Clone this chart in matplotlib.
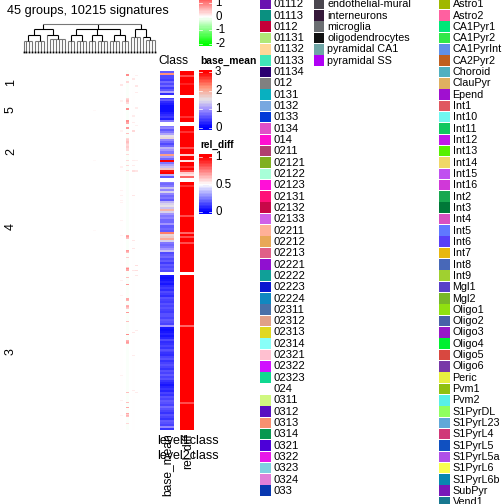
import matplotlib
matplotlib.use('Agg')
import matplotlib.pyplot as plt
import numpy as np
from matplotlib.colors import LinearSegmentedColormap, Normalize
from matplotlib.patches import Rectangle

plt.rcParams['font.family'] = ['Liberation Sans', 'DejaVu Sans']

# legend names and colours
class_names = ['01112', '01113', '0112', '01131', '01132', '01133', '01134', '012', '0131', '0132', '0133',
               '0134', '014', '0211', '02121', '02122', '02123', '02131', '02132', '02133', '02211', '02212',
               '02213', '02221', '02222', '02223', '02224', '02311', '02312', '02313', '02314', '02321', '02322',
               '02323', '024', '0311', '0312', '0313', '0314', '0321', '0322', '0323', '0324', '033']
class_colors = ['#6a12b0', '#0a9080', '#c40038', '#b0e878', '#ffd898', '#40e8b8', '#2a0070', '#808080', '#08b0c0',
                '#78a8e0', '#0038d8', '#e050c8', '#ff10d0', '#b04070', '#80b020', '#a8ffd8', '#ff10d8', '#ff1078',
                '#c80848', '#d060e8', '#ffb098', '#e8a858', '#e06088', '#9010d0', '#10a098', '#0818d0', '#1088c0',
                '#4870a8', '#e0a088', '#e0d820', '#88fff8', '#ffc0d0', '#d010ff', '#10d890', '#ffffff', '#d0f880',
                '#5810c0', '#f89070', '#089850', '#4c00d8', '#e818e8', '#80d0e0', '#e080d8', '#0838b0']
type_names = ['endothelial-mural', 'interneurons', 'microglia', 'oligodendrocytes', 'pyramidal CA1', 'pyramidal SS']
type_colors = ['#4a464e', '#35193a', '#6b6e72', '#111111', '#6fa6a6', '#b000f5']
cell_names = ['Astro1', 'Astro2', 'CA1Pyr1', 'CA1Pyr2', 'CA1PyrInt', 'CA2Pyr2', 'Choroid', 'ClauPyr', 'Epend', 'Int1',
              'Int10', 'Int11', 'Int12', 'Int13', 'Int14', 'Int15', 'Int16', 'Int2', 'Int3', 'Int4', 'Int5', 'Int6',
              'Int7', 'Int8', 'Int9', 'Mgl1', 'Mgl2', 'Oligo1', 'Oligo2', 'Oligo3', 'Oligo4', 'Oligo5', 'Oligo6',
              'Peric', 'Pvm1', 'Pvm2', 'S1PyrDL', 'S1PyrL23', 'S1PyrL4', 'S1PyrL5', 'S1PyrL5a', 'S1PyrL6', 'S1PyrL6b',
              'SubPyr', 'Vend1']
cell_colors = ['#a0b800', '#ff60a0', '#00e878', '#30e848', '#6090e8', '#c06020', '#50b0c0', '#e0b060', '#a010d0',
               '#e05860', '#70f8f0', '#10c860', '#c018e8', '#58f000', '#f0d868', '#c050f0', '#d038d8', '#18a850',
               '#007838', '#d850c0', '#6078ff', '#5840f8', '#e8b810', '#4868b8', '#a0d030', '#5840c8', '#78b828',
               '#90e010', '#4860a8', '#9818c8', '#00f030', '#d84840', '#7838a8', '#e8f040', '#90c010', '#58f0e8',
               '#90ff60', '#60a8d8', '#d03878', '#1050c0', '#b050e8', '#f8ff50', '#0888b0', '#7818b8', '#187890']

# row groups in display order, with their rows of the two side columns
group_names = ['1', '5', '2', '4', '3']
base_mean = [
    [.6, 2.2, .5, .5, .4, .7, .5, .7, .4, .6, 1.1, .3],
    [.4, .6, .3, .2, .1, .1, .1, .2, .3, .4, .2, .8],
    [.8, .9, .6, .8, 1.1, 1.5, 1.6, .9, .7, .5, .7, 1.2, 1.0, .8, 2.1, 1.0, .7, 3.0, .8, 1.1, 1.3, 1.7, 2.9, 3.0,
     1.2, .6],
    [.8, .7, .8, 1.3, .9, 1.4, .9, .7, .8, .6, 1.2, 1.4, 1.5, 1.3, 1.9, 1.4, 1.0, .8, .9, .7, .7, 1.0, .6, .7, .6,
     2.3, 1.6, 1.7, 2.0, 1.4, .8, .7, .8, 1.0, 1.3, .5, .6, .7, .5, .6, .4, .6, .5, .6, .5],
    [.15, .1, .15, .25, .15, .3, .4, .3, .5, .4, .3, .55, .45, .4, .55, .45, .55, .45, .4, .55, .55, .45, .6, .55, .45,
     1.0, .15, .1, .15, .25, .15, .25, .5, .3, .35, .45, .35, .55, .45, .35, .3, .45, .55, .35, .45, .55, .45, .35, .55,
     .45, .6, .45, .55, .35, .25, .15, .25, .35, .25, .45, .35, .55, .45, .6, .55, .45, .7, .55, .45, .35, .55, .45,
     .35, .6, .55, .45, .9, .35]]
rel_diff = [
    [1, 1, .85, 1, 1, 1, .93, 1, 1, 1, 1, 1],
    [1, 1, 1, 1, 1, 1, 1, 1, 1, .9, 1, 1],
    [1, 1, 1, .9, 1, 1, 1, 1, 1, 1, 1, .85, 1, 1, .6, 1, 1, .55, 1, 1, .9, 1, .85, .6, .55, .8],
    [1, 1, .9, 1, 1, 1, 1, 1, 1, 1, 1, 1, 1, 1, 1, 1, 1, .85, 1, 1, 1, 1, 1, 1, 1, .8, 1, .85, 1, 1, .85, 1, 1, 1, 1,
     1, 1, 1, 1, 1, 1, 1, 1, 1, 1],
    [1, 1, 1, 1, 1, 1, 1, 1, 1, 1, 1, 1, 1, 1, 1, 1, 1, 1, 1, 1, 1, 1, 1, 1, 1, .8, 1, 1, 1, 1, 1, 1, 1, 1, 1, 1, 1,
     1, 1, 1, 1, 1, 1, 1, 1, 1, 1, 1, 1, 1, 1, 1, 1, 1, 1, 1, 1, 1, 1, 1, 1, 1, 1, 1, .85, 1, 1, 1, 1, 1, 1, 1, 1, 1,
     1, 1, 1, 1]]
group_start = [71, 98, 126, 182, 275]
group_end = [95, 122.5, 178.5, 272, 430]

# heatmap is nearly empty: rows with a visible tint in the few coloured columns
col35_rows = [4, 5, 11, 12, 28, 29, 30, 31, 32, 33, 38, 39, 50, 51, 52, 53, 57, 58, 63, 68, 69, 70, 71, 72, 73, 74, 75,
              76, 77, 78, 79, 80, 84, 90, 95, 100, 165, 166, 167, 168, 180, 181, 182, 187, 197, 198, 199, 200, 207,
              214, 228, 229, 230, 235, 236, 237, 238, 242, 251, 264, 270, 271, 272, 273, 322, 332, 337, 343, 344, 345,
              346, 353]
col35_vals = [.9, .9, .3, .3, .3, .4, .5, .5, .3, .3, .9, .9, .9, .9, .7, .7, .8, .8, .5, .3, .4, .4, .5, .5, .4, .3,
              .3, .4, .4, .3, .3, .3, .3, .3, .3, .3, .7, .8, .6, .5, .8, .7, .5, .4, .4, .9, .7, .7, .5, .8, .7, .7,
              .6, .6, .7, .5, .4, .8, .5, .9, .6, .7, .8, .6, .5, .5, .7, .7, .4, .6, .5, .3]
col33_rows = [14, 15, 30, 31, 60, 61, 96, 97, 120, 125, 130, 132, 150, 165, 210, 225, 305, 330, 345]
col33_vals = [.2, .2, .12, .12, .1, .1, .12, .12, .1, .12, .1, .1, .1, .1, .12, .1, .1, .12, .1]
col37_rows = [8, 9, 45, 46, 52, 60, 61, 90, 95, 100, 101, 125, 170, 178, 200, 262, 285, 320]
col37_vals = [.2, .2, .15, .15, .15, .3, .3, .15, .15, .25, .25, .2, .2, .2, .2, .2, .15, .15]
col38_rows = [5, 15, 16, 22, 37, 38, 55, 90, 100, 101, 195, 200, 205, 260, 322]
col38_vals = [.12, .2, .2, .15, .15, .15, .12, .12, .2, .2, .25, .25, .2, .15, .15]
col24_rows = [40, 90, 160]
col24_vals = [.06, .06, .06]

# dendrogram: (height, children), None is a leaf
L = None
left = (23, [(17, [(11, [L] * 4), (11, [L] * 4)]), (17, [L, (13, [L] * 6)])])
middle = (23, [(17, [(11, [L] * 3), (11, [L] * 4)]), (17, [(11, [L] * 3), (11, [L] * 4)]),
               (17, [(11, [L] * 4), (11, [L] * 3)])])
right = (23, [(15, [L] * 4), (15, [L, (12, [L] * 4)])])
tree = (28, [left, middle, right])

fig = plt.figure(figsize=(7, 7), dpi=72)


def px_axes(x0, y0, x1, y1):
    ax = fig.add_axes([x0 / 504, 1 - y1 / 504, (x1 - x0) / 504, (y1 - y0) / 504])
    ax.axis('off')
    return ax


canvas = px_axes(0, 0, 504, 504)
canvas.set_xlim(0, 504)
canvas.set_ylim(504, 0)

canvas.text(7, 11, '45 groups, 10215 signatures', fontsize=12.7, va='center')

# dendrogram
leaf_pos = [0]


def draw_node(ax, node):
    if node is None:
        x = 23.5 + leaf_pos[0] * 2.98
        leaf_pos[0] += 1
        return x, 0
    h, children = node
    kids = [draw_node(ax, c) for c in children]
    col = '#777777' if all(c is None for c in children) or h == 28 else 'black'
    for x, kh in kids:
        leaf_col = '#777777' if kh == 0 else 'black'
        ax.plot([x, x], [52 - kh, 52 - h], color=leaf_col, lw=1.1, solid_capstyle='butt')
    ax.plot([kids[0][0], kids[-1][0]], [52 - h, 52 - h], color=col, lw=1.1, solid_capstyle='butt')
    return (kids[0][0] + kids[-1][0]) / 2, h


draw_node(canvas, tree)
canvas.plot(23.5 + np.arange(45) * 2.98, [51.5] * 45, ls='', marker='s', ms=1.8, color='black', mew=0)

# heatmap
heat_cmap = LinearSegmentedColormap.from_list('gwr', ['#00ff00', '#ffffff', '#ff0000'])
heat_norm = Normalize(-2, 2)
heat = np.zeros((360, 45))
heat[:, 35] = -.04
heat[:, 33] = .01
heat[:, 37] = .01
heat[col35_rows, 35] = col35_vals
heat[col33_rows, 33] = col33_vals
heat[col37_rows, 37] = col37_vals
heat[col38_rows, 38] = col38_vals
heat[col24_rows, 24] = col24_vals
ax_heat = px_axes(22, 70, 156, 430)
ax_heat.imshow(np.ma.masked_equal(heat, 0), cmap=heat_cmap, norm=heat_norm, aspect='auto', interpolation='nearest')

# white gaps between groups
for i in range(1, len(group_names)):
    canvas.add_patch(Rectangle((22, group_end[i - 1]), 134, group_start[i] - group_end[i - 1], color='white', zorder=5))

for name, y0, y1 in zip(group_names, group_start, group_end):
    canvas.text(11, (y0 + y1) / 2 - 0.5, name, rotation=90, fontsize=12.5, ha='center', va='center')

# side columns
mean_cmap = LinearSegmentedColormap.from_list('bwr_mean', [(0, '#0000ff'), (.33, '#a294ff'), (.5, '#e6e2e8'),
                                                           (.72, '#ff9a80'), (1, '#ff0000')])
mean_norm = Normalize(0, 3)
diff_cmap = LinearSegmentedColormap.from_list('bwr_diff', ['#0000ff', '#ffffff', '#ff0000'])
diff_norm = Normalize(0, 1)
for vals_a, vals_b, y0, y1 in zip(base_mean, rel_diff, group_start, group_end):
    a = px_axes(160, y0, 174, y1)
    a.imshow(np.array(vals_a)[:, None], cmap=mean_cmap, norm=mean_norm, aspect='auto', interpolation='nearest')
    b = px_axes(180, y0, 194, y1)
    b.imshow(np.array(vals_b)[:, None], cmap=diff_cmap, norm=diff_norm, aspect='auto', interpolation='nearest')


# colour bars
def color_bar(y0, y1, top, bottom, cmap, norm, ticks, labels, label_x=215):
    ax = px_axes(199, y0, 212, y1)
    vals = np.linspace(top, bottom, 40)[:, None]
    ax.imshow(vals, cmap=cmap, norm=norm, aspect='auto', extent=(0, 1, bottom, top), interpolation='nearest')
    for t in ticks:
        ax.plot([0, .22], [t, t], color='white', lw=0.7)
        ax.plot([.78, 1], [t, t], color='white', lw=0.7)
    ax.set_xlim(0, 1)
    ax.set_ylim(bottom, top)
    for t, lab in zip(ticks, labels):
        ypx = y0 + (top - t) / (top - bottom) * (y1 - y0)
        canvas.text(label_x, ypx, lab, fontsize=11.5, va='center')


color_bar(0, 46, 1.22, -2.13, heat_cmap, heat_norm, [1, 0, -1, -2], ['1', '0', '-1', '-2'])
color_bar(70, 130, 3.1, -0.1, mean_cmap, mean_norm, [3, 2, 1, 0], ['3', '2', '1', '0'])
color_bar(154, 214, 1.05, -0.03, diff_cmap, diff_norm, [1, .5, 0], ['1', '0.5', '0'])

canvas.text(158, 60.5, 'Class', fontsize=12, va='center')
canvas.text(200, 61, 'base_mean', fontsize=10.3, fontweight='bold', va='center')
canvas.text(200, 145, 'rel_diff', fontsize=10, fontweight='bold', va='center')

# bottom labels, they do overlap in the original
canvas.text(157, 441.5, 'level1class', fontsize=12.5, va='center')
canvas.text(157, 456, 'level2class', fontsize=12.5, va='center')
canvas.text(167.5, 433, 'base_mean', fontsize=12, rotation=90, ha='center', va='top')
canvas.text(187.5, 433, 'rel_diff', fontsize=12, rotation=90, ha='center', va='top')


# legends
def legend_col(x, names, colors, size=10.8):
    for i, (name, color) in enumerate(zip(names, colors)):
        y = 4 + i * 11.32
        canvas.add_patch(Rectangle((x, y - 5.3), 10.6, 10.6, facecolor=color, edgecolor='none'))
        canvas.text(x + 13.5, y + 0.2, name, fontsize=size, va='center')


legend_col(260, class_names, class_colors, size=11.3)
legend_col(313.5, type_names, type_colors)
legend_col(439, cell_names, cell_colors)

fig.savefig('out.png', dpi=72)
